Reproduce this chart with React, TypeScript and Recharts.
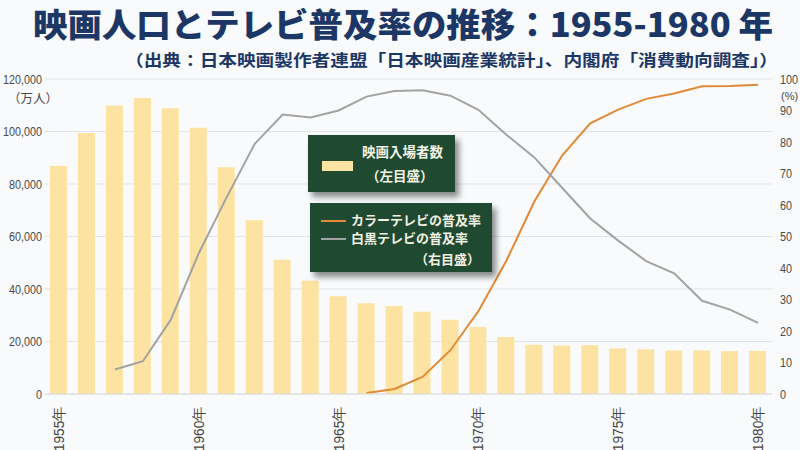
import React from 'react';
import { ComposedChart, Bar, Line, XAxis, YAxis, CartesianGrid, Legend } from 'recharts';

const years = ['1955', '1956', '1957', '1958', '1959', '1960', '1961', '1962', '1963', '1964', '1965', '1966', '1967',
    '1968', '1969', '1970', '1971', '1972', '1973', '1974', '1975', '1976', '1977', '1978', '1979', '1980'];

// 映画入場者数（万人）
const attendance = [86891, 99388, 109888, 112745, 108811, 101436, 86343, 66228, 51112, 43146, 37268, 34583, 33539,
    31339, 28302, 25480, 21675, 18739, 18532, 18592, 17402, 17017, 16545, 16577, 16351, 16445];

// カラーテレビの普及率（%）
const colorTv = [null, null, null, null, null, null, null, null, null, null, null, 0.3, 1.6,
    5.4, 13.9, 26.3, 42.3, 61.1, 75.8, 85.9, 90.3, 93.7, 95.4, 97.7, 97.8, 98.2];

// 白黒テレビの普及率（%）
const bwTv = [null, null, 7.8, 10.4, 23.6, 44.7, 62.5, 79.4, 88.7, 87.8, 90.0, 94.4, 96.2,
    96.4, 94.7, 90.2, 82.3, 75.1, 65.4, 55.7, 48.7, 42.2, 38.3, 29.6, 26.8, 22.6];

const leftTicks = [0, 20000, 40000, 60000, 80000, 100000, 120000];
const rightTicks = [0, 10, 20, 30, 40, 50, 60, 70, 80, 90, 100];

const data = years.map((y, i) => ({
    year: y,
    attendance: attendance[i],
    colorTv: colorTv[i],
    bwTv: bwTv[i],
}));

const NAVY = '#1c3766';
const GREEN = '#1f4a31';
const LEGEND_TEXT = '#f2f1e4';
const FONT = '"Noto Sans CJK JP", "Noto Sans", sans-serif';
const NUM_FONT = '"Liberation Sans", sans-serif';

// narrow-looking numbers: squeeze the glyphs horizontally
const YearTick = (props: any) => {
    const { x, y, payload } = props;
    return (
        <text transform={`translate(${x + 5},${y + 5}) rotate(-90) scale(0.95,1)`} textAnchor="end" fontSize={14.5}
              fontFamily={NUM_FONT} fill="#444">
            {payload.value}年
        </text>
    );
};

const NumTick = (props: any) => {
    const { x, y, payload, textAnchor, formatter } = props;
    const label = formatter ? formatter(payload.value) : payload.value;
    return (
        <text transform={`translate(${x},${y}) scale(0.8,1)`} textAnchor={textAnchor} dy="0.36em" fontSize={13.5}
              fontFamily={NUM_FONT} fill="#4a4a4a">
            {label}
        </text>
    );
};

const fmt = (v: number) => v.toLocaleString('en-US');

const boxStyle: React.CSSProperties = {
    position: 'absolute',
    background: GREEN,
    boxShadow: '4px 5px 6px rgba(0,0,0,0.45)',
    color: LEGEND_TEXT,
    fontFamily: FONT,
    fontWeight: 700,
    fontSize: 13,
    lineHeight: '16px',
};

const renderLegend = (props: any) => {
    const items = props.payload || [];
    const bar = items.find((p: any) => p.dataKey === 'attendance');
    const lines = items.filter((p: any) => p.dataKey !== 'attendance');
    return (
        <div style={{ position: 'relative', width: 200, height: 140 }}>
            <div style={{ ...boxStyle, fontSize: 13.5, left: 0, top: 0, width: 147, height: 57 }}>
                <div style={{ position: 'absolute', left: 14, top: 26, width: 31, height: 10, background: bar?.color }} />
                <div style={{ position: 'absolute', left: 54, top: 8 }}>{bar?.value}</div>
                <div style={{ position: 'absolute', left: 58, top: 32 }}>（左目盛）</div>
            </div>
            <div style={{ ...boxStyle, left: 2, top: 68, width: 182, height: 69 }}>
                {lines.map((p: any, i: number) => (
                    <React.Fragment key={p.dataKey}>
                        <div style={{ position: 'absolute', left: 11, top: 17 + i * 18, width: 25, height: 2, background: p.color }} />
                        <div style={{ position: 'absolute', left: 41, top: 9 + i * 18 }}>{p.value}</div>
                    </React.Fragment>
                ))}
                <div style={{ position: 'absolute', right: 12, top: 48 }}>（右目盛）</div>
            </div>
        </div>
    );
};

const App = () => {
    return (
        <div style={{ position: 'absolute', left: 0, top: 0, width: 800, height: 450, background: '#f8fafb', overflow: 'hidden' }}>
            <ComposedChart width={800} height={450} data={data}
                           margin={{ top: 79, right: 0, bottom: 6, left: 0 }}>
                <CartesianGrid yAxisId="left" vertical={false} stroke="#e1e4e7" />
                <XAxis dataKey="year" interval={4} height={50} tick={<YearTick />} tickLine={false}
                       axisLine={{ stroke: '#dcdcdc' }} />
                <YAxis yAxisId="left" domain={[0, 120000]} ticks={leftTicks} width={45} tickSize={0} tickMargin={3}
                       axisLine={false} tickLine={false} tick={<NumTick formatter={fmt} />} />
                <YAxis yAxisId="right" orientation="right" domain={[0, 100]} ticks={rightTicks} width={28}
                       tickSize={0} tickMargin={8} axisLine={false} tickLine={false} tick={<NumTick />} />
                <Bar yAxisId="left" dataKey="attendance" name="映画入場者数" fill="#fde3a2" barSize={17}
                     isAnimationActive={false} />
                <Line yAxisId="right" dataKey="colorTv" name="カラーテレビの普及率" stroke="#e28a35" strokeWidth={2}
                      dot={false} isAnimationActive={false} />
                <Line yAxisId="right" dataKey="bwTv" name="白黒テレビの普及率" stroke="#a3a3a3" strokeWidth={2}
                      dot={false} isAnimationActive={false} />
                <Legend content={renderLegend} layout="horizontal" verticalAlign="middle" align="center"
                        wrapperStyle={{ left: 308, top: 135, width: 200 }} />
            </ComposedChart>
            <svg width={800} height={110} style={{ position: 'absolute', left: 0, top: 0, pointerEvents: 'none' }}>
                <text x={33} y={37} fontSize={33} fontWeight={900} fill={NAVY} fontFamily={FONT}
                      textLength={740} lengthAdjust="spacingAndGlyphs">
                    映画人口とテレビ普及率の推移：1955-1980 年
                </text>
                <text x={125} y={66} fontSize={16} fontWeight={700} fill={NAVY} fontFamily={FONT}
                      textLength={653} lengthAdjust="spacingAndGlyphs">
                    （出典：日本映画製作者連盟「日本映画産業統計」、内閣府「消費動向調査」）
                </text>
                <text x={8} y={103} fontSize={12.5} fill="#4a4a4a" fontFamily={FONT}>（万人）</text>
                <text x={781} y={100} fontSize={11} fill="#4a4a4a" fontFamily={NUM_FONT}>(%)</text>
            </svg>
        </div>
    );
};

export default App;
